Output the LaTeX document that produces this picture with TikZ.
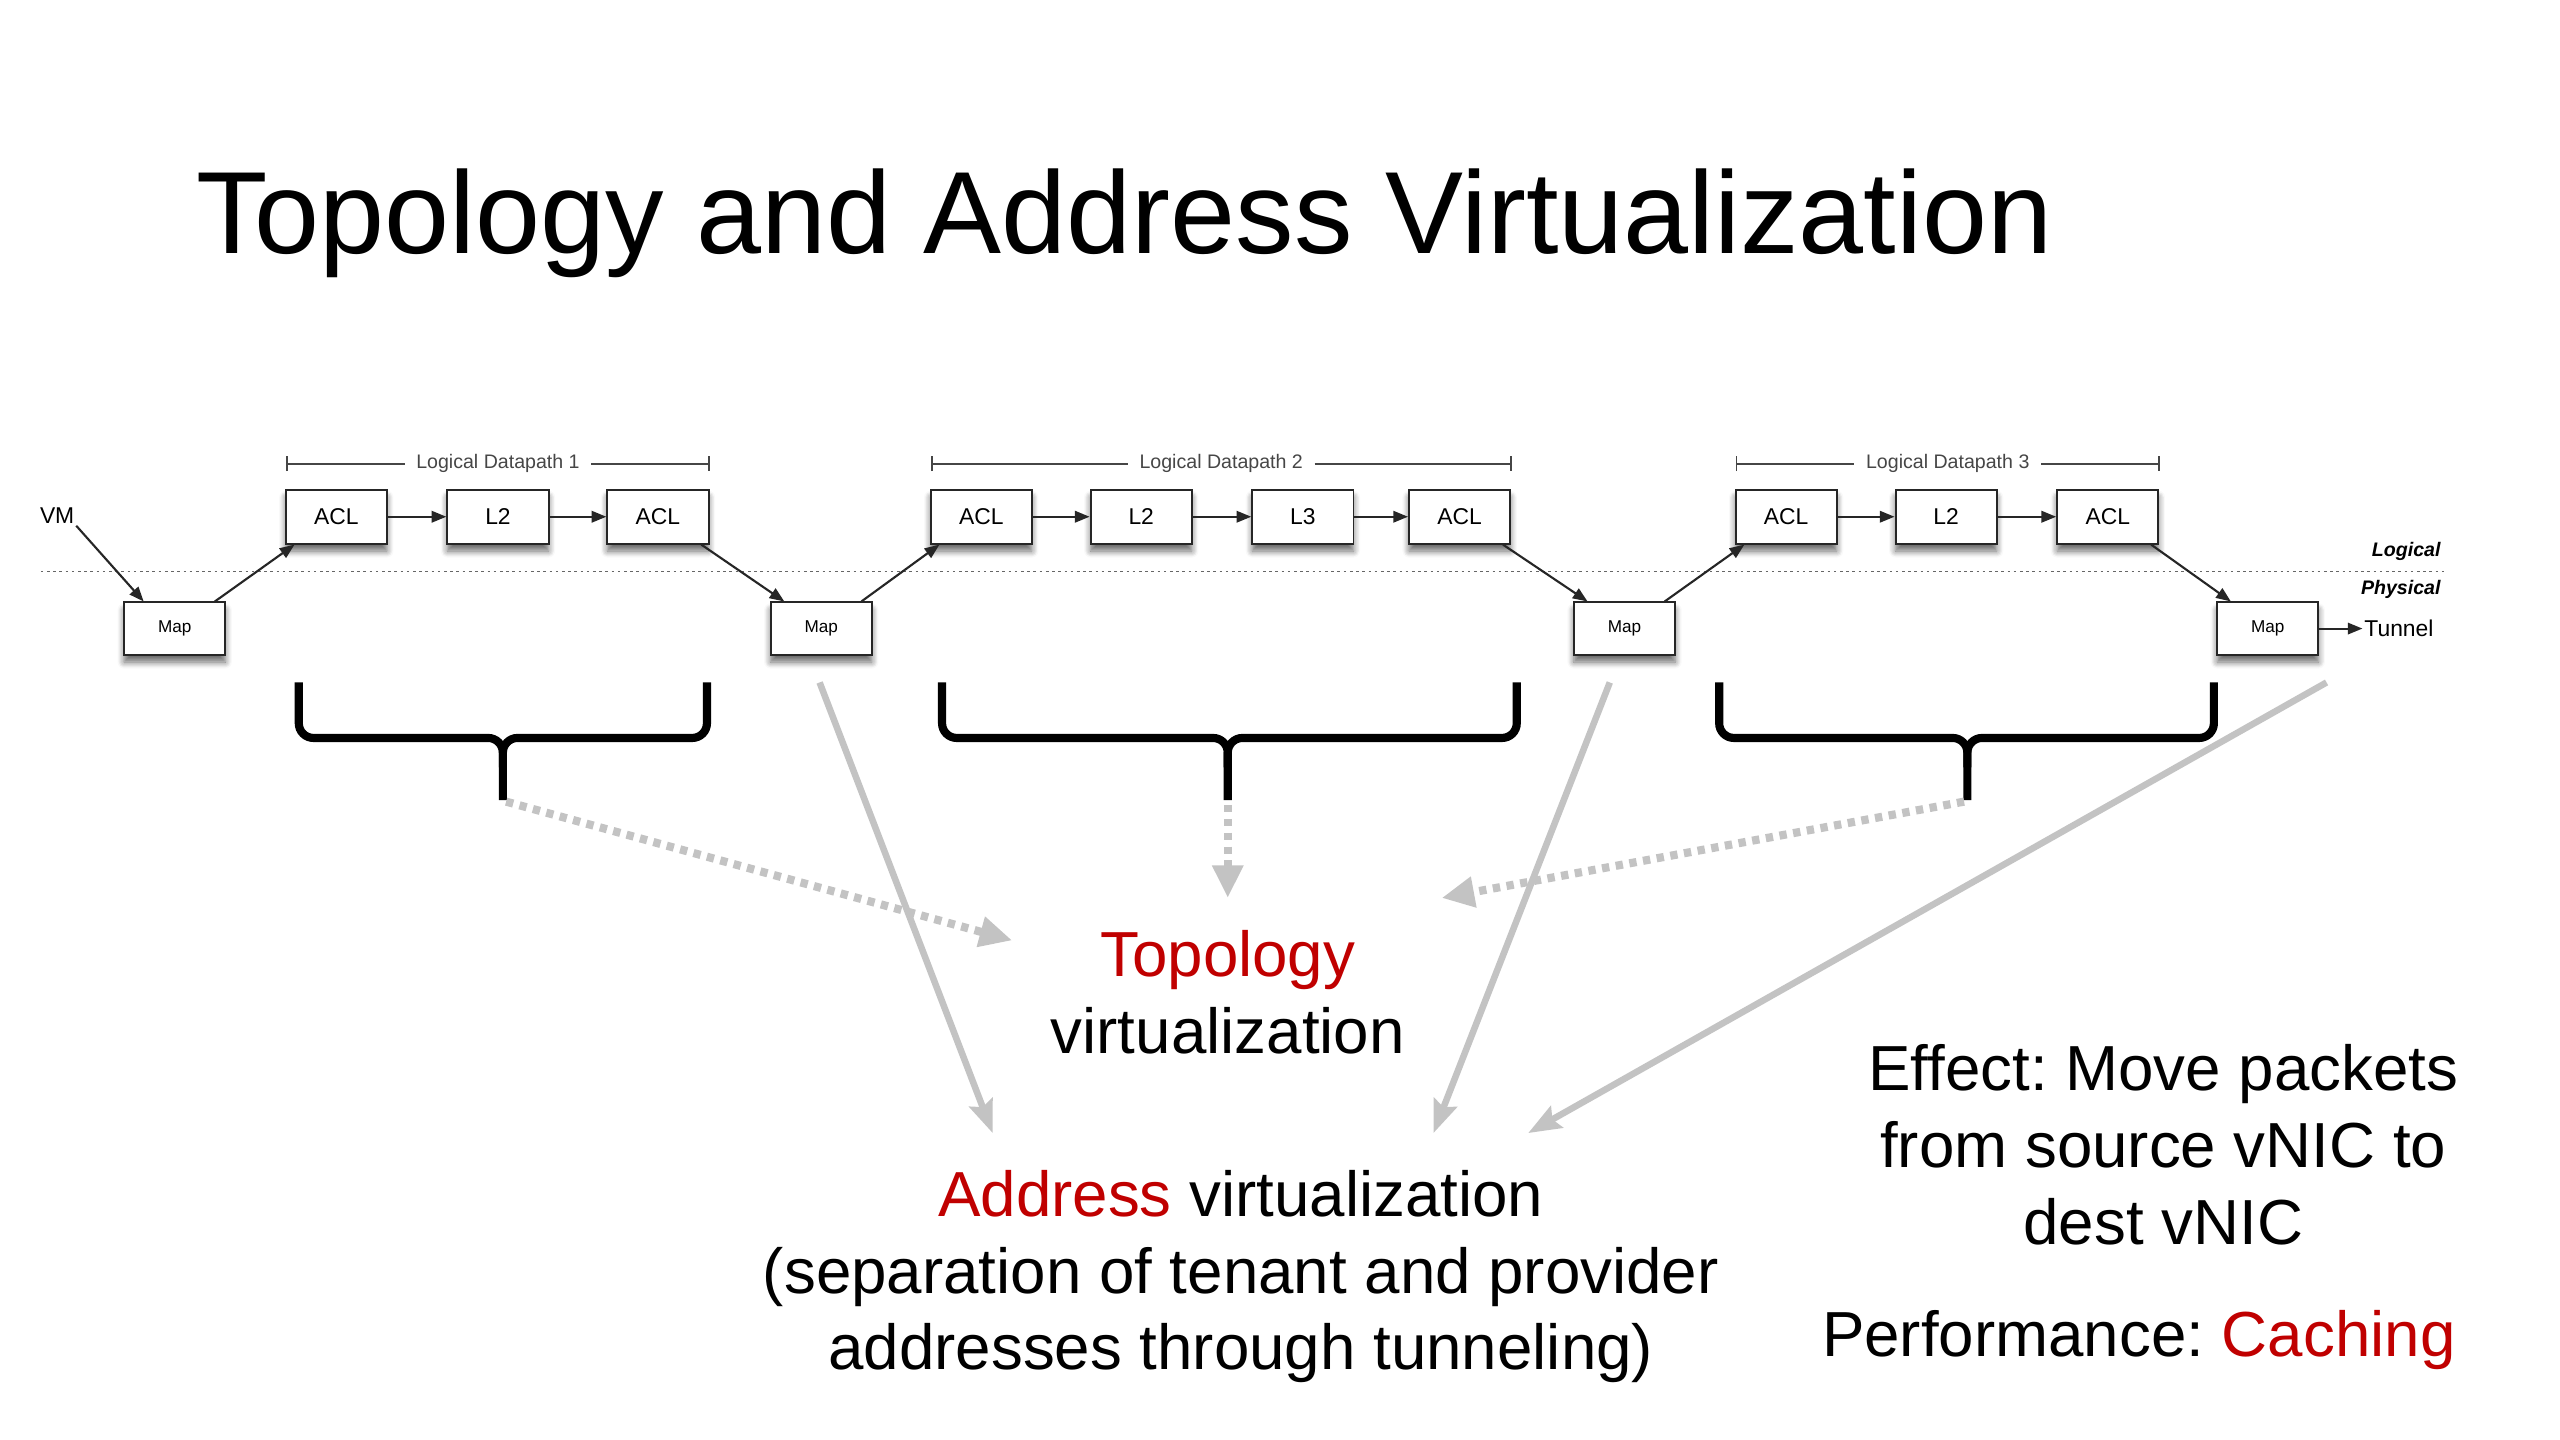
\documentclass[tikz,border=0pt]{standalone}
\usepackage{fontspec}
\setmainfont{Liberation Sans}
\usetikzlibrary{arrows.meta,shadows.blur,calc}
\definecolor{tred}{RGB}{192,0,0}
\definecolor{agray}{RGB}{195,195,195}
\definecolor{dpgray}{RGB}{70,70,70}
\frenchspacing
\begin{document}
\begin{tikzpicture}[x=1pt,y=-1pt,
  box/.style={draw=black!85, line width=1.2pt, fill=white, minimum width=62pt,
    minimum height=33pt, inner sep=0pt, font=\fontsize{14}{14}\selectfont,
    blur shadow={shadow xshift=0pt, shadow yshift=-4.5pt, shadow blur steps=6,
      shadow blur radius=4pt, shadow opacity=60}},
  mapbox/.style={box, minimum height=32pt, font=\fontsize{10.5}{10.5}\selectfont},
  flow/.style={draw=black!85, line width=1.3pt, -{Triangle[length=9pt,width=7pt]}},
  dpline/.style={draw=dpgray, line width=1.2pt},
  dplabel/.style={font=\fontsize{12}{12}\selectfont, text=dpgray, inner sep=0pt},
  small/.style={font=\fontsize{14}{14}\selectfont, inner sep=1pt},
  layer/.style={font=\fontsize{12}{12}\selectfont\bfseries\itshape, inner sep=0pt, anchor=east},
  bracestyle/.style={draw=black, line width=5pt, rounded corners=9pt},
  dotarrow/.style={draw=agray, line width=5pt, dash pattern=on 4.5pt off 4pt,
    -{Triangle[length=20pt,width=18pt]}},
  solidarrow/.style={draw=agray, line width=4pt, -{Stealth[length=20pt,width=15pt,inset=3pt]}},
  big/.style={font=\fontsize{39}{39}\selectfont, inner sep=0pt, anchor=base}
]
\useasboundingbox (0,0) rectangle (1568,882);

% title
\node[anchor=base west, inner sep=0pt, font=\fontsize{71.6}{71.6}\selectfont] (title) at (120,155)
  {Topology and Address Virtualization};

% logical / physical separator
\draw[draw=black!60, line width=1pt, dash pattern=on 1.6pt off 2.2pt] (25,350) -- (1497,350);
\node[layer] (logical) at (1495,338) {Logical};
\node[layer] (physical) at (1495,361) {Physical};

% logical datapath boxes
\node[box] (a1) at (206,316.5) {ACL};
\node[box] (b1) at (305,316.5) {L2};
\node[box] (c1) at (403,316.5) {ACL};
\node[box] (a2) at (601,316.5) {ACL};
\node[box] (b2) at (699,316.5) {L2};
\node[box] (c2) at (798,316.5) {L3};
\node[box] (d2) at (894,316.5) {ACL};
\node[box] (a3) at (1094,316.5) {ACL};
\node[box] (b3) at (1192,316.5) {L2};
\node[box] (c3) at (1291,316.5) {ACL};

% map boxes
\node[mapbox] (m1) at (107,385) {Map};
\node[mapbox] (m2) at (503,385) {Map};
\node[mapbox] (m3) at (995,385) {Map};
\node[mapbox] (m4) at (1389,385) {Map};

\node[small] (vm) at (35,316) {VM};
\node[small, anchor=west] (tunnel) at (1447,385) {Tunnel};

% datapath brackets
\node[dplabel] (dp1) at (305,284) {Logical Datapath 1};
\draw[dpline, {Bar[width=9pt]}-] (175,284) -- ([xshift=-7pt]dp1.west);
\draw[dpline, -{Bar[width=9pt]}] ([xshift=7pt]dp1.east) -- (435,284);
\node[dplabel] (dp2) at (748,284) {Logical Datapath 2};
\draw[dpline, {Bar[width=9pt]}-] (570,284) -- ([xshift=-7pt]dp2.west);
\draw[dpline, -{Bar[width=9pt]}] ([xshift=7pt]dp2.east) -- (926,284);
\node[dplabel] (dp3) at (1193,284) {Logical Datapath 3};
\draw[dpline, {Bar[width=9pt]}-] (1063,284) -- ([xshift=-7pt]dp3.west);
\draw[dpline, -{Bar[width=9pt]}] ([xshift=7pt]dp3.east) -- (1323,284);

% chain arrows
\draw[flow] (a1) -- (b1);
\draw[flow] (b1) -- (c1);
\draw[flow] (a2) -- (b2);
\draw[flow] (b2) -- (c2);
\draw[flow] (c2) -- (d2);
\draw[flow] (a3) -- (b3);
\draw[flow] (b3) -- (c3);

% logical <-> physical arrows
\draw[flow] (vm.south east) -- ([xshift=-19pt]m1.north);
\draw[flow] ([xshift=-7pt]m1.north east) -- ([xshift=6pt]a1.south west);
\draw[flow] ([xshift=-5pt]c1.south east) -- ([xshift=9pt]m2.north west);
\draw[flow] ([xshift=-7pt]m2.north east) -- ([xshift=6pt]a2.south west);
\draw[flow] ([xshift=-5pt]d2.south east) -- ([xshift=9pt]m3.north west);
\draw[flow] ([xshift=-7pt]m3.north east) -- ([xshift=6pt]a3.south west);
\draw[flow] ([xshift=-5pt]c3.south east) -- ([xshift=9pt]m4.north west);
\draw[flow] (m4.east) -- (tunnel.west);

% braces
\draw[bracestyle] (183,418) -- (183,452) -- (308,452) -- (308,490);
\draw[bracestyle] (433,418) -- (433,452) -- (308,452) -- (308,470);
\draw[bracestyle] (577,418) -- (577,452) -- (752,452) -- (752,490);
\draw[bracestyle] (929,418) -- (929,452) -- (752,452) -- (752,470);
\draw[bracestyle] (1053,418) -- (1053,452) -- (1205,452) -- (1205,490);
\draw[bracestyle] (1356,418) -- (1356,452) -- (1205,452) -- (1205,470);
\coordinate (t1) at (310,491);
\coordinate (t2) at (752,493);
\coordinate (t3) at (1203,491);

% texts
\node[big] (topo) at (752,598) {\textcolor{tred}{Topology}};
\node[big] (topov) at (752,645) {virtualization};
\node[big] (addr) at (760,745) {\textcolor{tred}{Address} virtualization};
\node[big] (sep) at (760,792) {(separation of tenant and provider};
\node[big] (tunl) at (760,839) {addresses through tunneling)};
\node[big] (eff1) at (1325,668) {Effect: Move packets};
\node[big] (eff2) at (1325,715) {from source vNIC to};
\node[big] (eff3) at (1325,762) {dest vNIC};
\node[big] (perf) at (1310,831) {Performance: \textcolor{tred}{Caching}};

% arrow targets
\coordinate (e1) at (620,576);
\coordinate (e2) at (752,550);
\coordinate (e3) at (883,550);
\coordinate (s1) at (502,418);
\coordinate (s2) at (986,418);
\coordinate (s3) at (1425,418);
\coordinate (f1) at (608,694);
\coordinate (f2) at (878,694);
\coordinate (f3) at (936,694);

% gray arrows
\draw[solidarrow] (s1) -- (f1);
\draw[solidarrow] (s2) -- (f2);
\draw[solidarrow] (s3) -- (f3);
\draw[dotarrow] (t1) -- (e1);
\draw[dotarrow] (t2) -- (e2);
\draw[dotarrow] (t3) -- (e3);
\end{tikzpicture}
\end{document}
